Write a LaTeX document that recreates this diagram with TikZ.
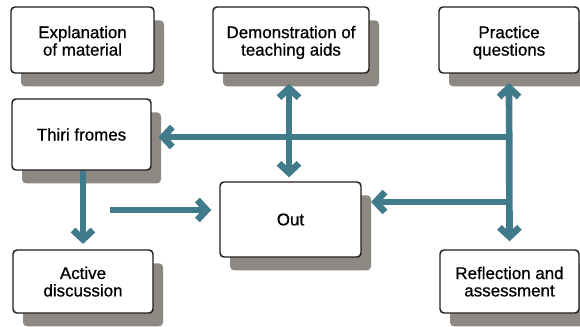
\documentclass[tikz,border=0pt]{standalone}
\usepackage{fontspec}
\setmainfont{Liberation Sans}
\newfontfamily\boxfont{Liberation Sans}[FakeBold=0.7]
\usetikzlibrary{arrows.meta,shadows}
\definecolor{teal1}{HTML}{407B8C}
\definecolor{shadowgray}{HTML}{8E8883}
\definecolor{boxline}{HTML}{1E1E1E}
\newcommand{\twoline}[3]{\raisebox{#1}[\height][\depth]{\begin{tabular}{@{}c@{}}#2\\#3\end{tabular}}}
\begin{document}
\begin{tikzpicture}[x=0.75pt,y=-0.75pt,
  box/.style={draw=boxline,line width=1.1pt,fill=white,rounded corners=3pt,
    inner sep=0pt,align=center,font=\boxfont\fontsize{12.7}{13}\selectfont,
    drop shadow={shadow xshift=7.5pt,shadow yshift=-10pt,fill=shadowgray,opacity=1}},
  tip/.tip={Straight Barb[length=7pt,width=15pt]},
  arr/.style={draw=teal1,line width=5pt,-tip},
  darr/.style={draw=teal1,line width=5pt,tip-tip}]
\useasboundingbox (0,0) rectangle (580,327);
\node[box,minimum width=107.25pt,minimum height=49.5pt] (n1) at (82.5,40) {\twoline{-2.5pt}{Explanation}{of material}};
\node[box,minimum width=117pt,minimum height=49.5pt] (n2) at (291,40) {\twoline{-2.5pt}{Demonstration of}{teaching aids}};
\node[box,minimum width=105pt,minimum height=49.5pt] (n3) at (509,40) {\twoline{-2.5pt}{Practice}{questions}};
\node[box,minimum width=104.25pt,minimum height=53.25pt] (n4) at (81.5,134.5) {Thiri fromes};
\node[box,minimum width=105pt,minimum height=47.25pt] (n5) at (83,281.5) {\twoline{-2pt}{Active}{discussion}};
\node[box,minimum width=105.75pt,minimum height=56.25pt] (n6) at (290.5,219.5) {Out};
\node[box,minimum width=104.25pt,minimum height=47.25pt] (n7) at (509.5,281.5) {\twoline{-2pt}{Reflection and}{assessment}};
% junction coordinates
\coordinate (j1) at (508,137);
\coordinate (j2) at (508,202);
\coordinate (f1) at (110,210);
% right vertical double arrow
\draw[darr] ([yshift=-7pt]n3.south) -- ([yshift=6pt]n7.north);
% horizontals
\draw[arr] (j1) -- ([xshift=5pt]n4.east |- j1);
\draw[arr] (j2) -- ([xshift=7pt]n6.east |- j2);
% demonstration <-> out
\draw[darr] ([yshift=-7.5pt]n2.south -| 289,0) -- ([yshift=3pt]n6.north -| 289,0);
% thiri -> active
\draw[arr] (n4.south -| 83,0) -- ([yshift=4pt]n5.north -| 83,0);
% free arrow to out
\draw[arr] (f1) -- ([xshift=-6pt]n6.west |- f1);
\end{tikzpicture}
\end{document}
